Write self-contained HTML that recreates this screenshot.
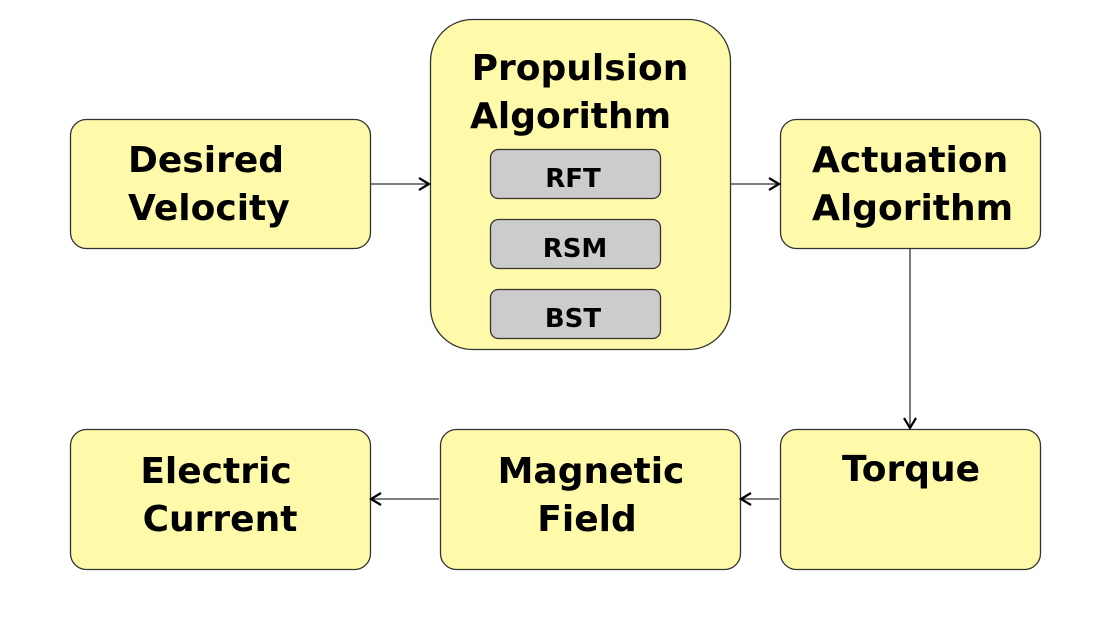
<!DOCTYPE html>
<html><head><meta charset="utf-8"><style>
html,body{margin:0;padding:0;background:#fff;}
svg{display:block;}
text{font-family:"DejaVu Sans","Liberation Sans",sans-serif;font-weight:bold;fill:#000;}
</style></head><body>
<svg width="1106" height="635" viewBox="0 0 1106 635" xmlns="http://www.w3.org/2000/svg">
<g fill="#fffaaa" stroke="#333" stroke-width="1.3">
<rect x="70.5" y="119.5" width="300" height="129" rx="16"/>
<rect x="430.5" y="19.5" width="300" height="330" rx="42"/>
<rect x="780.5" y="119.5" width="260" height="129" rx="16"/>
<rect x="780.5" y="429.5" width="260" height="140" rx="16"/>
<rect x="440.5" y="429.5" width="300" height="140" rx="16"/>
<rect x="70.5" y="429.5" width="300" height="140" rx="16"/>
</g>
<g fill="#cccccc" stroke="#333" stroke-width="1.3">
<rect x="490.5" y="149.5" width="170" height="49" rx="8"/>
<rect x="490.5" y="219.5" width="170" height="49" rx="8"/>
<rect x="490.5" y="289.5" width="170" height="49" rx="8"/>
</g>
<g stroke="#333" stroke-width="1.3" fill="none">
<line x1="371" y1="184" x2="429" y2="184"/>
<polyline points="419,178 429,184 419,190" stroke="#000" stroke-width="2.2"/>
<line x1="731" y1="184" x2="779" y2="184"/>
<polyline points="769,178 779,184 769,190" stroke="#000" stroke-width="2.2"/>
<line x1="910" y1="249" x2="910" y2="428"/>
<polyline points="904,418 910,428 916,418" stroke="#000" stroke-width="2.2"/>
<line x1="779" y1="499" x2="741" y2="499"/>
<polyline points="751,493 741,499 751,505" stroke="#000" stroke-width="2.2"/>
<line x1="439" y1="499" x2="371" y2="499"/>
<polyline points="381,493 371,499 381,505" stroke="#000" stroke-width="2.2"/>
</g>
<g font-size="36">
<text x="128" y="172">Desired</text>
<text x="128" y="220">Velocity</text>
<text x="580" y="80" text-anchor="middle">Propulsion</text>
<text x="470" y="128">Algorithm</text>
<text x="812" y="172">Actuation</text>
<text x="812" y="220">Algorithm</text>
<text x="911" y="481" text-anchor="middle">Torque</text>
<text x="591" y="483" text-anchor="middle">Magnetic</text>
<text x="587" y="531" text-anchor="middle">Field</text>
<text x="216" y="483" text-anchor="middle">Electric</text>
<text x="220" y="531" text-anchor="middle">Current</text>
</g>
<g font-size="26" text-anchor="middle">
<text x="573" y="187">RFT</text>
<text x="575" y="257">RSM</text>
<text x="573" y="327">BST</text>
</g>
</svg>
</body></html>
